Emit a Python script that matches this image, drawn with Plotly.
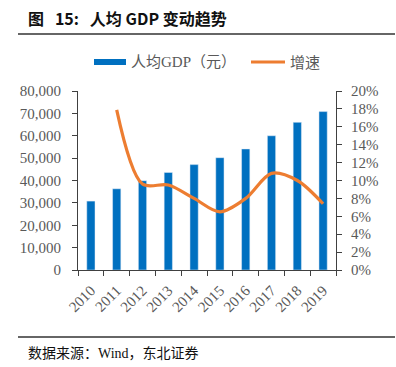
import plotly.graph_objects as go

years = ["2010", "2011", "2012", "2013", "2014", "2015", "2016", "2017", "2018", "2019"]
gdp_pc = [30800, 36300, 39900, 43600, 47100, 50200, 54100, 60000, 66000, 70800]
growth_years = ["2011", "2012", "2013", "2014", "2015", "2016", "2017", "2018", "2019"]
growth = [17.9, 9.6, 9.5, 8.0, 6.5, 8.0, 10.8, 10.0, 7.4]

L, R, T, B = 78, 60, 91, 97
W, H = 396, 367
pw, ph = W - L - R, H - T - B

def px(x):
    return (x - L) / pw

def py(y):
    return (H - B - y) / ph

serif = "Liberation Serif, Times New Roman, serif"
cjk = "Noto Sans CJK SC, sans-serif"
gray = "#595959"

fig = go.Figure()
fig.add_trace(go.Bar(x=years, y=gdp_pc, name="人均GDP（元）", marker_color="#0070C0",
                     width=0.32, yaxis="y", showlegend=False))
fig.add_trace(go.Scatter(x=growth_years, y=growth, name="增速", mode="lines",
                         line=dict(color="#ED7D31", width=3.2, shape="spline", smoothing=0.9),
                         yaxis="y2", showlegend=False))

fig.update_layout(
    width=W, height=H,
    margin=dict(l=L, r=R, t=T, b=B, autoexpand=False),
    plot_bgcolor="white", paper_bgcolor="white",
    xaxis=dict(type="category", showline=True, linecolor="#404040", linewidth=1,
               ticks="outside", tickson="boundaries", ticklen=5, tickcolor="#404040",
               tickangle=-45, tickfont=dict(family=serif, size=15, color=gray),
               ticklabelstandoff=5, showgrid=False, automargin=False),
    yaxis=dict(range=[0, 80000], dtick=10000, tickformat=",", showline=True,
               linecolor="#404040", linewidth=1, ticks="outside", ticklen=5,
               tickcolor="#404040", showgrid=False, zeroline=False, automargin=False,
               ticklabelstandoff=8,
               tickfont=dict(family=serif, size=15, color=gray)),
    yaxis2=dict(range=[0, 20], dtick=2, ticksuffix="%", overlaying="y", side="right",
                showline=True, linecolor="#404040", linewidth=1, ticks="outside",
                ticklen=5, tickcolor="#404040", showgrid=False, zeroline=False,
                automargin=False, ticklabelstandoff=6,
                tickfont=dict(family=serif, size=15, color=gray)),
    bargap=0.6,
)

shapes = [
    dict(type="line", xref="paper", yref="paper", x0=px(18), x1=px(395), y0=py(34), y1=py(34),
         line=dict(color="#333333", width=1.5)),
    dict(type="line", xref="paper", yref="paper", x0=px(18), x1=px(395), y0=py(337), y1=py(337),
         line=dict(color="#333333", width=1.5)),
    dict(type="rect", xref="paper", yref="paper", x0=px(94), x1=px(126), y0=py(65), y1=py(59),
         fillcolor="#0070C0", line=dict(width=0)),
    dict(type="line", xref="paper", yref="paper", x0=px(251), x1=px(285), y0=py(62), y1=py(62),
         line=dict(color="#ED7D31", width=3)),
]
fig.update_layout(shapes=shapes)

annotations = [
    dict(text="<b>图\u00a0\u00a0 15:\u00a0\u00a0 人均 GDP 变动趋势</b>", xref="paper", yref="paper",
         x=px(26), y=py(18), xanchor="left", yanchor="middle", showarrow=False,
         font=dict(family=cjk, size=16, color="#111111")),
    dict(text="人均GDP（元）", xref="paper", yref="paper", x=px(129), y=py(62),
         xanchor="left", yanchor="middle", showarrow=False,
         font=dict(family=serif + ", " + cjk, size=15, color=gray)),
    dict(text="增速", xref="paper", yref="paper", x=px(288), y=py(62),
         xanchor="left", yanchor="middle", showarrow=False,
         font=dict(family=cjk, size=15, color=gray)),
    dict(text="数据来源：Wind，东北证券", xref="paper", yref="paper", x=px(26), y=py(353),
         xanchor="left", yanchor="middle", showarrow=False,
         font=dict(family=serif + ", " + cjk, size=14, color="#111111")),
]
fig.update_layout(annotations=annotations)

fig.write_html("out.html", config={"displayModeBar": False, "staticPlot": True})

with open("out.html", "r", encoding="utf-8") as f:
    html = f.read()
html = html.replace("<body>", '<body style="margin:0;padding:0;overflow:hidden">', 1)
with open("out.html", "w", encoding="utf-8") as f:
    f.write(html)
